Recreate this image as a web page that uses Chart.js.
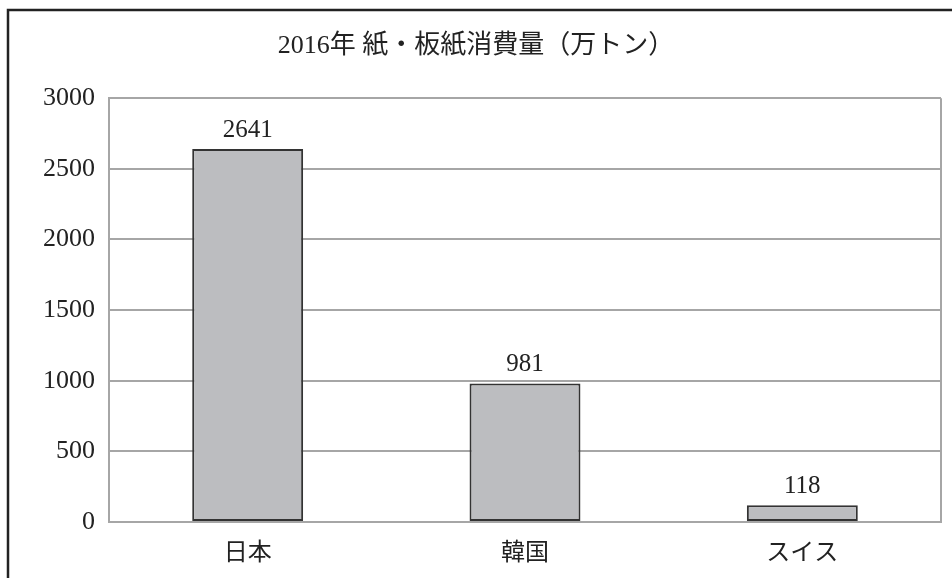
<!DOCTYPE html>
<html>
<head>
<meta charset="utf-8">
<script src="https://cdn.jsdelivr.net/npm/chart.js@4.4.0/dist/chart.umd.min.js"></script>
<style>
  html, body { margin: 0; padding: 0; background: #fff; }
  #wrap { width: 952px; height: 578px; position: relative; }
</style>
</head>
<body>
<div id="wrap"><canvas id="chart"></canvas></div>
<script>
const titleText = '2016年 紙・板紙消費量（万トン）';
const countries = ['日本', '韓国', 'スイス'];
const consumption = [2641, 981, 118];
const yTicks = [0, 500, 1000, 1500, 2000, 2500, 3000];

const fontFamily = "'Liberation Serif', 'Noto Sans CJK JP', serif";

// outer frame (top + left) and right edge of plot
const framePlugin = {
    id: 'frame',
    afterDraw(chart) {
        const ctx = chart.ctx;
        const area = chart.chartArea;
        ctx.save();
        ctx.strokeStyle = '#222';
        ctx.lineWidth = 2.5;
        ctx.beginPath();
        ctx.moveTo(8, 578);
        ctx.lineTo(8, 10);
        ctx.lineTo(952, 10);
        ctx.stroke();
        ctx.strokeStyle = '#a6a6a6';
        ctx.lineWidth = 2;
        ctx.beginPath();
        ctx.moveTo(area.right, area.top);
        ctx.lineTo(area.right, area.bottom);
        ctx.stroke();
        ctx.restore();
    }
};

// value labels above bars
const valueLabels = {
    id: 'valueLabels',
    afterDatasetsDraw(chart) {
        const ctx = chart.ctx;
        const meta = chart.getDatasetMeta(0);
        ctx.save();
        ctx.fillStyle = '#222';
        ctx.font = '25px ' + fontFamily;
        ctx.textAlign = 'center';
        ctx.textBaseline = 'bottom';
        meta.data.forEach((bar, i) => {
            ctx.fillText(String(consumption[i]), bar.x, bar.y - 6);
        });
        ctx.restore();
    }
};

new Chart(document.getElementById('chart'), {
    type: 'bar',
    data: {
        labels: countries,
        datasets: [{
            data: consumption,
            backgroundColor: '#bcbdc0',
            borderColor: '#333',
            borderWidth: 2,
            borderSkipped: false,
            barPercentage: 0.4,
            categoryPercentage: 1.0
        }]
    },
    options: {
        responsive: true,
        maintainAspectRatio: false,
        animation: false,
        layout: { padding: { left: 11, right: 11, top: 0, bottom: 0 } },
        plugins: {
            legend: { display: false },
            tooltip: { enabled: false },
            title: {
                display: true,
                text: titleText,
                color: '#222',
                font: { family: fontFamily, size: 26, weight: 'normal' },
                padding: { top: 31, bottom: 36 }
            }
        },
        scales: {
            x: {
                grid: { display: false, drawTicks: false },
                border: { display: true, color: '#a6a6a6', width: 2 },
                ticks: {
                    color: '#222',
                    padding: 17,
                    font: { family: fontFamily, size: 24 }
                },
                afterFit(scale) { scale.height = 56; }
            },
            y: {
                min: 0,
                max: 3000,
                afterBuildTicks(scale) {
                    scale.ticks = yTicks.map(v => ({ value: v }));
                },
                grid: { color: '#a6a6a6', lineWidth: 2, drawTicks: false },
                border: { display: true, color: '#a6a6a6', width: 2 },
                ticks: {
                    color: '#222',
                    padding: 14,
                    font: { family: fontFamily, size: 26 },
                    callback: v => String(v)
                },
                afterFit(scale) { scale.width = 98; }
            }
        }
    },
    plugins: [framePlugin, valueLabels]
});
</script>
</body>
</html>
